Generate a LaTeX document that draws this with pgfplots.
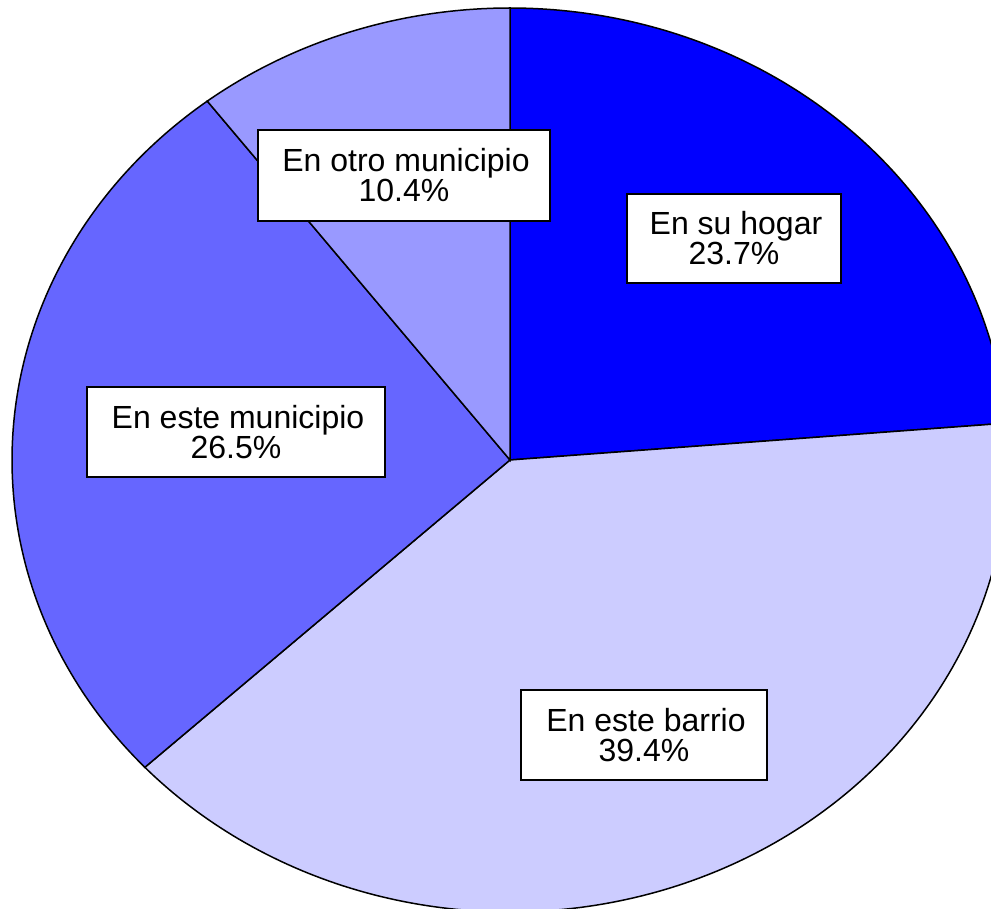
\documentclass[border=0pt]{standalone}
\usepackage{pgfplots}
\pgfplotsset{compat=1.18}
\usepackage{pgfplotstable}
\usepackage{fontspec}
\setmainfont{Liberation Sans}
\definecolor{cA}{HTML}{0000FF}
\definecolor{cB}{HTML}{CCCCFF}
\definecolor{cC}{HTML}{6666FF}
\definecolor{cD}{HTML}{9999FF}
\pgfplotstableread{
label share
hogar 23.7
barrio 39.4
estemun 26.5
otromun 10.4
}\piedata
\pgfplotstablegetelem{0}{share}\of\piedata \let\sA\pgfplotsretval
\pgfplotstablegetelem{1}{share}\of\piedata \let\sB\pgfplotsretval
\pgfplotstablegetelem{2}{share}\of\piedata \let\sC\pgfplotsretval
\pgfplotstablegetelem{3}{share}\of\piedata \let\sD\pgfplotsretval
\pgfmathsetmacro\aO{90}
\pgfmathsetmacro\aA{\aO-3.6*\sA}
\pgfmathsetmacro\aB{\aA-3.6*\sB}
\pgfmathsetmacro\aC{\aB-3.6*\sC}
\pgfmathsetmacro\aD{\aC-3.6*\sD}
\def\cx{510}\def\cy{449}\def\rx{498}\def\ry{452}
\begin{document}
\begin{tikzpicture}
\begin{axis}[
  width=991pt, height=909pt, scale only axis,
  xmin=0, xmax=991, ymin=0, ymax=909,
  hide axis, clip=true,
]
\addplot[fill=cA, draw=black, line width=1.5pt, domain=\aA:\aO, samples=120]
  ({\cx+\rx*cos(x)},{\cy+\ry*sin(x)}) -- (axis cs:\cx,\cy) -- cycle;
\addplot[fill=cB, draw=black, line width=1.5pt, domain=\aB:\aA, samples=160]
  ({\cx+\rx*cos(x)},{\cy+\ry*sin(x)}) -- (axis cs:\cx,\cy) -- cycle;
\addplot[fill=cC, draw=black, line width=1.5pt, domain=\aC:\aB, samples=120]
  ({\cx+\rx*cos(x)},{\cy+\ry*sin(x)}) -- (axis cs:\cx,\cy) -- cycle;
\addplot[fill=cD, draw=black, line width=1.5pt, domain=\aD:\aC, samples=60]
  ({\cx+\rx*cos(x)},{\cy+\ry*sin(x)}) -- (axis cs:\cx,\cy) -- cycle;
\tikzset{lbl/.style={draw=black, fill=white, line width=1.5pt, align=center,
  inner sep=0pt, font=\fontsize{32}{30}\selectfont}}
\node[lbl, minimum width=214pt, minimum height=89pt] at (axis cs:734,670.5) {\hspace*{4pt}En su hogar\\23.7\%};
\node[lbl, minimum width=292pt, minimum height=91pt] at (axis cs:404,733.5) {\hspace*{4pt}En otro municipio\\10.4\%};
\node[lbl, minimum width=298pt, minimum height=90pt] at (axis cs:236,477) {\hspace*{4pt}En este municipio\\26.5\%};
\node[lbl, minimum width=246pt, minimum height=90pt] at (axis cs:644,174) {\hspace*{4pt}En este barrio\\39.4\%};
\end{axis}
\pgfresetboundingbox
\path (current axis.south west) rectangle (current axis.north east);
\end{tikzpicture}
\end{document}
